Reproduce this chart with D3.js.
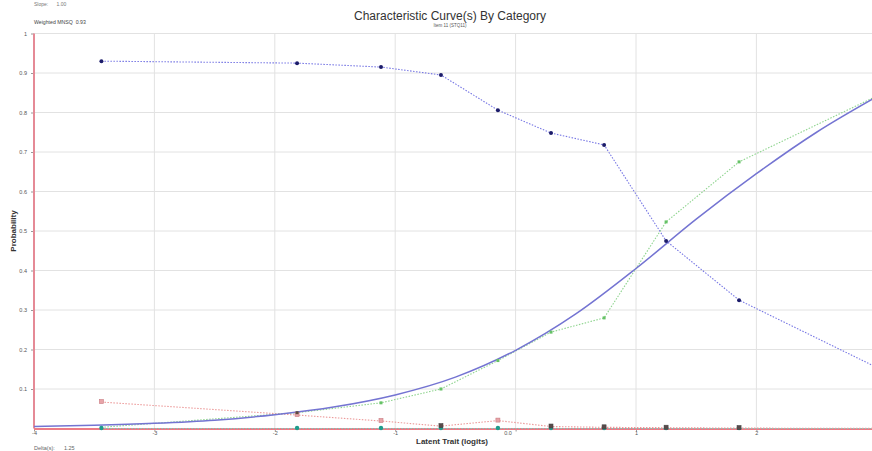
<!DOCTYPE html>
<html><head><meta charset="utf-8">
<script src="https://cdn.jsdelivr.net/npm/d3@7"></script>
<style>body{margin:0;background:#fff;}svg{display:block;font-family:Arial,"Liberation Sans",sans-serif;}</style>
</head><body><svg id="c" width="872" height="451"></svg>
<script>
// ---- data ----
const xObs = [-3.44, -1.815, -1.118, -0.62, -0.147, 0.294, 0.735, 1.25, 1.856, 3.4];
const cat0 = [0.930, 0.925, 0.915, 0.895, 0.806, 0.748, 0.718, 0.475, 0.325, 0.095];
const cat1 = [0.003, 0.040, 0.065, 0.100, 0.172, 0.244, 0.280, 0.523, 0.675, 0.900];
const cat2 = [0.067, 0.034, 0.019, 0.006, 0.020, 0.005, 0.003, 0.002, 0.001, 0.000];
const cat3 = [0.000, 0.000, 0.000, 0.000, 0.000, 0.000, 0.000, 0.000, 0.000, 0.000];
const xModel = [-4, -3.5, -3, -2.5, -2, -1.5, -1, -0.5, 0, 0.5, 1, 1.5, 2, 2.5, 3];
const model  = [0.005, 0.008, 0.013, 0.021, 0.035, 0.055, 0.085, 0.130, 0.198, 0.290, 0.405, 0.530, 0.645, 0.750, 0.840];
const xTicks = [-4, -3, -2, -1, 0, 1, 2];
const xTickLabels = ["-4", "-3", "-2", "-1", "0.0", "1", "2"];
const yTicks = [0.1, 0.2, 0.3, 0.4, 0.5, 0.6, 0.7, 0.8, 0.9, 1];
const yTickLabels = ["0.1", "0.2", "0.3", "0.4", "0.5", "0.6", "0.7", "0.8", "0.9", "1"];
const title = "Characteristic Curve(s) By Category";
const subtitle = "Item 11 (STQ11)";
const infoTop = ["Slope:", "1.00"];
const infoWeighted = ["Weighted MNSQ", "0.93"];
const infoDelta = ["Delta(s):", "1.25"];

// ---- drawing ----
const svg = d3.select("#c");
const x = d3.scaleLinear().domain([-4, 3]).range([34, 876.8]);
const y = d3.scaleLinear().domain([0, 1]).range([428.5, 33.5]);

const defs = svg.append("defs");
defs.append("clipPath").attr("id", "clip").append("rect")
  .attr("x", 34).attr("y", 30).attr("width", 840).attr("height", 402);

// grid
const g = svg.append("g");
g.selectAll("line.v").data(xTicks.slice(1)).join("line")
  .attr("x1", d => x(d)).attr("x2", d => x(d)).attr("y1", y(1)).attr("y2", y(0))
  .attr("stroke", "#e2e2e2").attr("stroke-width", 1);
g.selectAll("line.h").data(yTicks).join("line")
  .attr("x1", x(-4)).attr("x2", 872).attr("y1", d => y(d)).attr("y2", d => y(d))
  .attr("stroke", "#e2e2e2").attr("stroke-width", 1);

// axes
const yAxis = d3.axisLeft(y).tickValues(yTicks).tickSize(3)
  .tickFormat((d, i) => yTickLabels[i]);
const ya = svg.append("g").attr("transform", "translate(34,0)").call(yAxis);
ya.select(".domain").remove();
ya.selectAll("line").attr("stroke", "#999");
ya.selectAll("text").attr("font-size", 5.5).attr("fill", "#555").attr("dx", -1);

const xAxis = d3.axisBottom(x).tickValues(xTicks).tickSize(3)
  .tickFormat((d, i) => xTickLabels[i]);
const xa = svg.append("g").attr("transform", "translate(0," + y(0) + ")").call(xAxis);
xa.select(".domain").remove();
xa.selectAll("line").attr("stroke", "#999");
xa.selectAll("text").attr("font-size", 5.5).attr("fill", "#555").attr("dy", 0)
  .attr("dx", d => d === 0 ? -8 : 0);

// red axis lines
svg.append("line").attr("x1", x(-4)).attr("x2", x(-4)).attr("y1", y(1)).attr("y2", y(0))
  .attr("stroke", "#e58a96").attr("stroke-width", 2);
svg.append("line").attr("x1", x(-4)).attr("x2", 872).attr("y1", y(0) + 0.5).attr("y2", y(0) + 0.5)
  .attr("stroke", "#ec7c86").attr("stroke-width", 2);

const plot = svg.append("g").attr("clip-path", "url(#clip)");
const line = d3.line().x(d => x(d[0])).y(d => y(d[1]));
const pts = arr => xObs.map((v, i) => [v, arr[i]]);

// observed dotted lines
const series = [
  {vals: cat3, stroke: "#7fc9bf"},
  {vals: cat2, stroke: "#ec9a9a"},
  {vals: cat1, stroke: "#8ed48e"},
  {vals: cat0, stroke: "#7777e4"}
];
series.forEach(s => {
  plot.append("path").datum(pts(s.vals)).attr("d", line)
    .attr("fill", "none").attr("stroke", s.stroke).attr("stroke-width", 1.1)
    .attr("stroke-dasharray", "1.5,1.5");
});

// model curve
plot.append("path").datum(xModel.map((v, i) => [v, model[i]]))
  .attr("d", d3.line().x(d => x(d[0])).y(d => y(d[1])).curve(d3.curveMonotoneX))
  .attr("fill", "none").attr("stroke", "#7474d2").attr("stroke-width", 1.5);

// markers
plot.selectAll("circle.c3").data(pts(cat3)).join("circle")
  .attr("cx", d => x(d[0])).attr("cy", d => y(d[1]) - 0.5).attr("r", 2.2).attr("fill", "#1f9c8c");
plot.selectAll("rect.c2").data(pts(cat2)).join("rect")
  .attr("x", d => x(d[0]) - 2).attr("y", d => y(d[1]) - 2.5).attr("width", 4).attr("height", 4)
  .attr("fill", d => d[1] < 0.01 ? "#5a4a4a" : "#e8a4a8")
  .attr("stroke", d => d[1] < 0.01 ? "#444" : "#c97a80").attr("stroke-width", 0.6);
plot.selectAll("rect.c1").data(pts(cat1).filter(d => d[1] > 0.01)).join("rect")
  .attr("x", d => x(d[0]) - 1.5).attr("y", d => y(d[1]) - 1.5).attr("width", 3).attr("height", 3)
  .attr("fill", d => d[1] < 0.05 ? "#5a4a40" : "#66c266");
plot.selectAll("circle.c0").data(pts(cat0)).join("circle")
  .attr("cx", d => x(d[0])).attr("cy", d => y(d[1])).attr("r", 2)
  .attr("fill", "#1c1c6a");

// texts
svg.append("text").attr("x", 450).attr("y", 20).attr("text-anchor", "middle")
  .attr("font-size", 12).attr("fill", "#333").text(title);
svg.append("text").attr("x", 450).attr("y", 27).attr("text-anchor", "middle")
  .attr("font-size", 4.5).attr("fill", "#555").text(subtitle);
svg.append("text").attr("x", 34).attr("y", 6).attr("font-size", 5).attr("fill", "#777")
  .text(infoTop[0] + "\u00a0\u00a0\u00a0\u00a0\u00a0\u00a0" + infoTop[1]);
svg.append("text").attr("x", 34).attr("y", 24).attr("font-size", 5.2).attr("fill", "#444")
  .text(infoWeighted[0] + "\u00a0\u00a0" + infoWeighted[1]);
svg.append("text").attr("x", 34).attr("y", 450).attr("font-size", 5.5).attr("fill", "#666")
  .text(infoDelta[0] + "\u00a0\u00a0\u00a0\u00a0\u00a0\u00a0" + infoDelta[1]);

svg.append("text").attr("transform", "translate(16," + y(0.5) + ") rotate(-90)")
  .attr("text-anchor", "middle").attr("font-size", 8).attr("font-weight", "bold").attr("fill", "#333")
  .text("Probability");
svg.append("text").attr("x", 452).attr("y", 444).attr("text-anchor", "middle")
  .attr("font-size", 8).attr("font-weight", "bold").attr("fill", "#333")
  .text("Latent Trait (logits)");
</script></body></html>
